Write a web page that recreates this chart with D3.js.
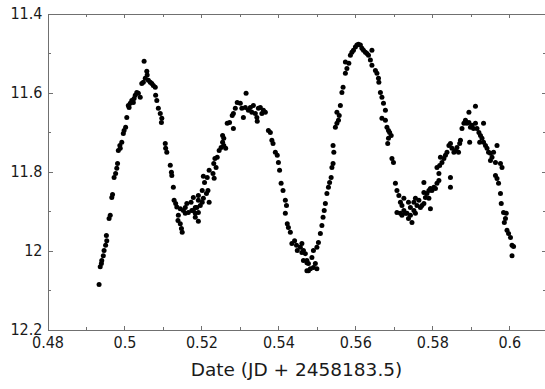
<!DOCTYPE html>
<html>
<head>
<meta charset="utf-8">
<script src="https://cdn.jsdelivr.net/npm/d3@7"></script>
<style>
    body { margin: 0; background: #fff; }
    svg { display: block; }
    .axis text { font-family: "DejaVu Sans Condensed", "DejaVu Sans", sans-serif; font-size: 16px; fill: #1a1a1a; }
    .axis path, .axis line { stroke: #707070; shape-rendering: crispEdges; }
    .title { font-family: "DejaVu Sans", sans-serif; font-size: 18.5px; fill: #1a1a1a; }
</style>
</head>
<body>
<svg id="svg" width="545" height="389"></svg>
<script>
// Tick values and labels.
const xTicks = [0.48, 0.50, 0.52, 0.54, 0.56, 0.58, 0.60];
const xTickLabels = ["0.48", "0.5", "0.52", "0.54", "0.56", "0.58", "0.6"];
const xMinorTicks = [0.49, 0.51, 0.53, 0.55, 0.57, 0.59];
const yTicks = [11.4, 11.6, 11.8, 12.0, 12.2];
const yTickLabels = ["11.4", "11.6", "11.8", "12", "12.2"];
const yMinorTicks = [11.5, 11.7, 11.9, 12.1];
const xTitle = "Date (JD + 2458183.5)";

// Observations: date offset and magnitude.
const jd = [
    0.4934, 0.4937, 0.4940, 0.4941, 0.4945, 0.4947, 0.4951, 0.4954, 0.4953, 0.4960,
    0.4963, 0.4967, 0.4969, 0.4973, 0.4977, 0.4980, 0.4982, 0.4984, 0.4988, 0.4989,
    0.4993, 0.4997, 0.4999, 0.5003, 0.5006, 0.5010, 0.5012, 0.5015, 0.5019, 0.5023,
    0.5025, 0.5028, 0.5032, 0.5036, 0.5041, 0.5045, 0.5049, 0.5051, 0.5054, 0.5058,
    0.5059, 0.5062, 0.5067, 0.5071, 0.5075, 0.5080, 0.5081, 0.5084, 0.5088, 0.5093,
    0.5097, 0.5096, 0.5106, 0.5107, 0.5110, 0.5119, 0.5122, 0.5123, 0.5127, 0.5129,
    0.5133,
    0.5136, 0.5139, 0.5140, 0.5145, 0.5145, 0.5148, 0.5150, 0.5153, 0.5158, 0.5158,
    0.5162, 0.5166, 0.5173, 0.5175, 0.5179, 0.5179, 0.5184, 0.5184, 0.5184, 0.5188,
    0.5192, 0.5192, 0.5192, 0.5192, 0.5197, 0.5202, 0.5202, 0.5205, 0.5205, 0.5208,
    0.5213, 0.5215, 0.5217, 0.5220, 0.5220, 0.5230, 0.5232, 0.5233, 0.5235, 0.5238,
    0.5241, 0.5246, 0.5251, 0.5255, 0.5255, 0.5258, 0.5258, 0.5263, 0.5267, 0.5273,
    0.5280, 0.5283, 0.5283, 0.5288, 0.5293, 0.5301, 0.5305, 0.5309, 0.5314, 0.5316,
    0.5322, 0.5327, 0.5331, 0.5335, 0.5340, 0.5344, 0.5345, 0.5348, 0.5353, 0.5357,
    0.5361, 0.5366, 0.5374, 0.5379, 0.5383, 0.5386, 0.5392, 0.5397, 0.5400, 0.5403,
    0.5407, 0.5412, 0.5418, 0.5421, 0.5418, 0.5423, 0.5426, 0.5431, 0.5435, 0.5442,
    0.5447, 0.5449, 0.5457, 0.5461, 0.5465, 0.5474, 0.5478,
    0.5461, 0.5465, 0.5470, 0.5474, 0.5478, 0.5483, 0.5491, 0.5496, 0.5487, 0.5491,
    0.5500, 0.5504, 0.5500, 0.5474, 0.5509, 0.5513, 0.5516, 0.5519, 0.5522, 0.5526,
    0.5530, 0.5533, 0.5537, 0.5539, 0.5542, 0.5544, 0.5542, 0.5548, 0.5552, 0.5556,
    0.5552, 0.5558, 0.5561, 0.5565, 0.5568, 0.5574, 0.5578, 0.5574, 0.5583, 0.5587,
    0.5591, 0.5595, 0.5600, 0.5604, 0.5608, 0.5613, 0.5617, 0.5621, 0.5626, 0.5630,
    0.5634, 0.5643, 0.5639, 0.5643, 0.5652, 0.5656, 0.5660, 0.5661, 0.5665, 0.5669,
    0.5673, 0.5678, 0.5669, 0.5678, 0.5682, 0.5686, 0.5686, 0.5684, 0.5689, 0.5693,
    0.5695, 0.5699, 0.5704, 0.5708, 0.5713, 0.5717, 0.5721, 0.5708, 0.5726, 0.5734,
    0.5738,
    0.5726, 0.5717, 0.5721, 0.5730, 0.5743, 0.5747, 0.5738, 0.5743, 0.5752, 0.5756,
    0.5760, 0.5752, 0.5756, 0.5765, 0.5769, 0.5773, 0.5778, 0.5782, 0.5778, 0.5786,
    0.5791, 0.5795, 0.5778, 0.5791, 0.5795, 0.5799, 0.5804, 0.5808, 0.5812, 0.5817,
    0.5817, 0.5812, 0.5819, 0.5825, 0.5821, 0.5830, 0.5834, 0.5838, 0.5843, 0.5847,
    0.5851, 0.5856, 0.5860, 0.5864, 0.5868, 0.5871, 0.5873, 0.5877, 0.5882, 0.5886,
    0.5890, 0.5895, 0.5895, 0.5912, 0.5899, 0.5897, 0.5903, 0.5907, 0.5912, 0.5916,
    0.5921, 0.5925, 0.5923, 0.5933, 0.5929, 0.5933, 0.5938, 0.5942, 0.5946, 0.5951,
    0.5955, 0.5951, 0.5959, 0.5968, 0.5964, 0.5977, 0.5981, 0.5964, 0.5968, 0.5972,
    0.5977, 0.5979, 0.5985, 0.5992, 0.5990, 0.5987, 0.5994, 0.5998, 0.6003, 0.6007,
    0.6011, 0.6007, 0.5847, 0.5847
];
const mag = [
    12.086, 12.041, 12.033, 12.025, 12.013, 12.000, 11.987, 11.975, 11.962, 11.919,
    11.911, 11.866, 11.858, 11.815, 11.805, 11.792, 11.780, 11.747, 11.734, 11.741,
    11.726, 11.704, 11.696, 11.688, 11.663, 11.633, 11.638, 11.627, 11.620, 11.625,
    11.615, 11.607, 11.600, 11.602, 11.612, 11.577, 11.574, 11.521, 11.564, 11.546,
    11.556, 11.569, 11.574, 11.577, 11.582, 11.587, 11.607, 11.620, 11.640, 11.653,
    11.665, 11.676, 11.729, 11.741, 11.751, 11.784, 11.802, 11.810, 11.840, 11.873,
    11.881,
    11.890, 11.924, 11.911, 11.932, 11.894, 11.944, 11.954, 11.899, 11.891, 11.906,
    11.881, 11.904, 11.878, 11.899, 11.866, 11.899, 11.891, 11.906, 11.916, 11.891,
    11.873, 11.904, 11.926, 11.861, 11.886, 11.878, 11.848, 11.868, 11.812, 11.828,
    11.856, 11.815, 11.848, 11.797, 11.878, 11.805, 11.780, 11.817, 11.767, 11.790,
    11.764, 11.747, 11.739, 11.726, 11.709, 11.734, 11.716, 11.741, 11.678, 11.676,
    11.658, 11.691, 11.653, 11.640, 11.625, 11.627, 11.640, 11.663, 11.638, 11.602,
    11.645, 11.638, 11.650, 11.633, 11.653, 11.663, 11.673, 11.640, 11.638, 11.653,
    11.645, 11.650, 11.696, 11.701, 11.721, 11.729, 11.751, 11.759, 11.777, 11.797,
    11.830, 11.848, 11.873, 11.886, 11.906, 11.932, 11.942, 11.954, 11.982, 11.975,
    11.987, 12.000, 11.992, 12.005, 12.025, 12.031, 12.051,
    11.982, 12.000, 12.008, 12.025, 12.033, 12.046, 12.043, 12.033, 12.018, 12.000,
    11.992, 11.980, 12.046, 12.051, 11.957, 11.937, 11.916, 11.899, 11.881, 11.856,
    11.840, 11.828, 11.815, 11.790, 11.780, 11.751, 11.734, 11.688, 11.678, 11.670,
    11.650, 11.658, 11.633, 11.600, 11.587, 11.551, 11.539, 11.523, 11.526, 11.506,
    11.498, 11.493, 11.485, 11.480, 11.478, 11.480, 11.488, 11.493, 11.498, 11.501,
    11.506, 11.493, 11.518, 11.531, 11.544, 11.551, 11.564, 11.574, 11.600, 11.612,
    11.627, 11.645, 11.665, 11.670, 11.688, 11.696, 11.716, 11.729, 11.701, 11.709,
    11.767, 11.777, 11.830, 11.848, 11.861, 11.878, 11.886, 11.904, 11.899, 11.906,
    11.919,
    11.868, 11.906, 11.911, 11.906, 11.911, 11.929, 11.878, 11.891, 11.899, 11.906,
    11.886, 11.878, 11.868, 11.873, 11.891, 11.886, 11.881, 11.866, 11.853, 11.856,
    11.868, 11.894, 11.828, 11.848, 11.843, 11.848, 11.840, 11.843, 11.830, 11.823,
    11.805, 11.790, 11.785, 11.777, 11.764, 11.767, 11.759, 11.751, 11.734, 11.729,
    11.741, 11.751, 11.747, 11.739, 11.751, 11.729, 11.721, 11.691, 11.678, 11.670,
    11.678, 11.676, 11.650, 11.635, 11.688, 11.726, 11.683, 11.691, 11.678, 11.691,
    11.701, 11.709, 11.726, 11.678, 11.716, 11.726, 11.734, 11.741, 11.751, 11.754,
    11.764, 11.772, 11.751, 11.734, 11.777, 11.780, 11.790, 11.810, 11.818, 11.830,
    11.856, 11.881, 11.904, 11.906, 11.919, 11.929, 11.949, 11.957, 11.967, 11.987,
    11.990, 12.013, 11.815, 11.840
];

const svg = d3.select("svg");
const frame = { left: 47.5, right: 545.5, top: 13.5, bottom: 329.5 };

// Scales. Magnitude axis runs downwards.
const x = d3.scaleLinear().domain([0.48, 0.6094]).range([frame.left, frame.right]);
const y = d3.scaleLinear().domain([11.4, 12.2]).range([frame.top, frame.bottom]);

// Bottom axis with labels, ticks pointing inwards.
svg.append("g")
    .attr("class", "axis")
    .attr("transform", `translate(0,${frame.bottom})`)
    .call(d3.axisBottom(x).tickValues(xTicks).tickSizeInner(-4).tickSizeOuter(0).tickPadding(7)
        .tickFormat((d, i) => xTickLabels[i]));
svg.append("g")
    .attr("class", "axis")
    .attr("transform", `translate(0,${frame.bottom})`)
    .call(d3.axisBottom(x).tickValues(xMinorTicks).tickSizeInner(-3).tickSizeOuter(0).tickFormat(""));

// Top axis, ticks only.
svg.append("g")
    .attr("class", "axis")
    .attr("transform", `translate(0,${frame.top})`)
    .call(d3.axisTop(x).tickValues(xTicks).tickSizeInner(-4).tickSizeOuter(0).tickFormat(""));
svg.append("g")
    .attr("class", "axis")
    .attr("transform", `translate(0,${frame.top})`)
    .call(d3.axisTop(x).tickValues(xMinorTicks).tickSizeInner(-3).tickSizeOuter(0).tickFormat(""));

// Left axis with labels.
svg.append("g")
    .attr("class", "axis")
    .attr("transform", `translate(${frame.left},0)`)
    .call(d3.axisLeft(y).tickValues(yTicks).tickSizeInner(-5).tickSizeOuter(0).tickPadding(5)
        .tickFormat((d, i) => yTickLabels[i]));
svg.append("g")
    .attr("class", "axis")
    .attr("transform", `translate(${frame.left},0)`)
    .call(d3.axisLeft(y).tickValues(yMinorTicks).tickSizeInner(-3).tickSizeOuter(0).tickFormat(""));

// Right axis, ticks only.
svg.append("g")
    .attr("class", "axis")
    .attr("transform", `translate(${frame.right},0)`)
    .call(d3.axisRight(y).tickValues(yTicks).tickSizeInner(-4).tickSizeOuter(0).tickFormat(""));
svg.append("g")
    .attr("class", "axis")
    .attr("transform", `translate(${frame.right},0)`)
    .call(d3.axisRight(y).tickValues(yMinorTicks).tickSizeInner(-3).tickSizeOuter(0).tickFormat(""));

// X-axis title.
svg.append("text")
    .attr("class", "title")
    .attr("x", (frame.left + frame.right) / 2)
    .attr("y", 376)
    .attr("text-anchor", "middle")
    .text(xTitle);

// The points.
svg.append("g")
    .selectAll("circle")
    .data(jd.map((d, i) => [d, mag[i]]))
    .enter()
    .append("circle")
    .attr("cx", d => x(d[0]))
    .attr("cy", d => y(d[1]))
    .attr("r", 2.5)
    .attr("fill", "#000");
</script>
</body>
</html>
